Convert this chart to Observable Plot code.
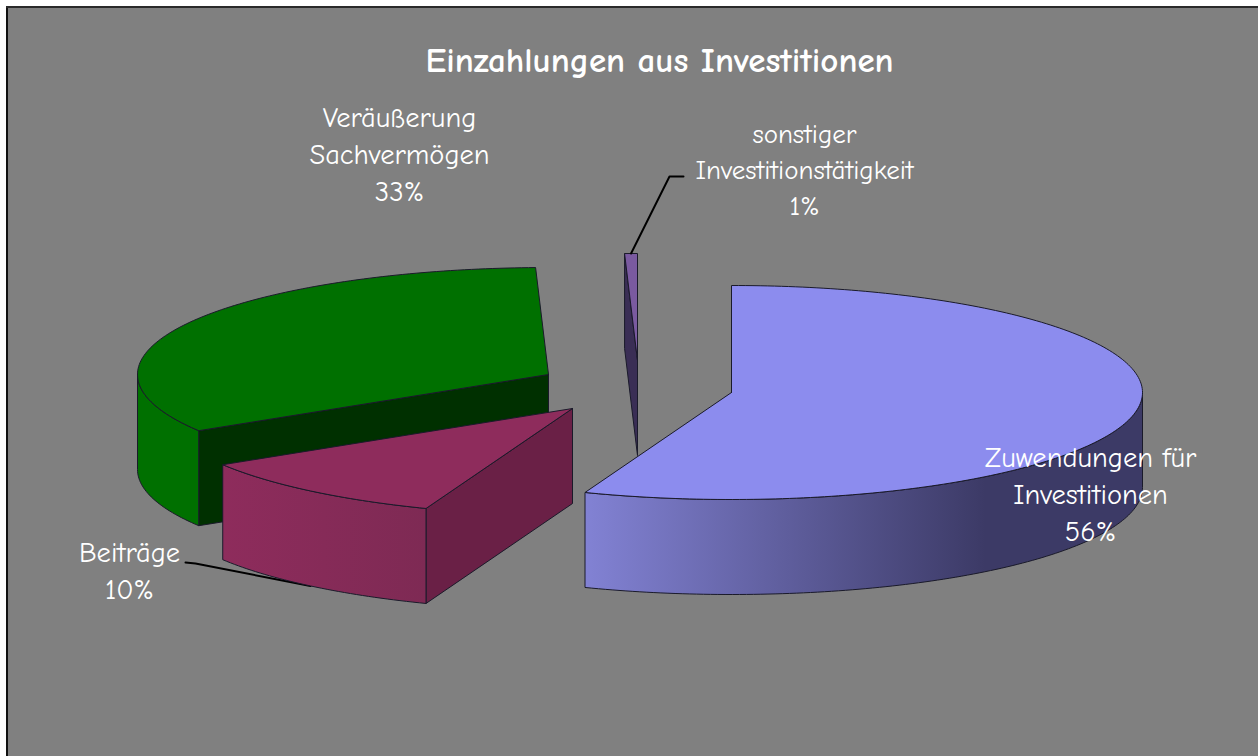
<!DOCTYPE html>
<html><head><meta charset="utf-8">
<script src="https://cdn.jsdelivr.net/npm/d3@7"></script>
<script src="https://cdn.jsdelivr.net/npm/@observablehq/plot@0.6"></script>
<style>html,body{margin:0;padding:0;background:#fff}svg{display:block}</style>
</head><body><div id="c"></div>
<script>
const categories = ["Zuwendungen für\nInvestitionen", "Beiträge", "Veräußerung\nSachvermögen", "sonstiger\nInvestitionstätigkeit"];
const shares = [55.8, 10.4, 33.3, 0.5];
const title = "Einzahlungen aus Investitionen";

// layout of the exploded 3D pie
const W = 1258, H = 756, rx = 411, ry = 107, depth = 95;
const centers = [[731, 392], [572, 408], [548, 374], [637, 360]];
const labelAt = [[1090, 496], [129, 572], [399, 156], [804, 171]];
const labelSize = [28.5, 28.5, 28.5, 27];
const looks = [
  {top: "#8c8cee", wall: "url(#wall0)", face: "#8c8cee"},
  {top: "#8e2c5c", wall: "url(#wall1)", face: "#6a2046"},
  {top: "#007000", wall: "#007000", face: "#003000"},
  {top: "#7a5aa0", wall: "#3a2e55", face: "#3a2e55"}
];

const rim = (i, a, z = 0) => {
  const t = a * Math.PI / 180, [cx, cy] = centers[i];
  return {x: cx + rx * Math.sin(t), y: cy - ry * Math.cos(t) + z};
};
const mid = (i, z = 0) => ({x: centers[i][0], y: centers[i][1] + z});
const arc = (i, a0, a1, z = 0) => {
  const n = Math.max(1, Math.ceil(Math.abs(a1 - a0)));
  return d3.range(n + 1).map(k => rim(i, a0 + (a1 - a0) * k / n, z));
};
const total = d3.sum(shares);
let acc = 0;
const slices = shares.map((s, i) => {
  const a0 = acc / total * 360; acc += s;
  return {i, a0, a1: acc / total * 360, pct: Math.round(s)};
});
const poly = (pts, fill, stroke = "#1a1a2a", strokeWidth = 1) =>
  Plot.line([...pts, pts[0]], {x: "x", y: "y", fill, stroke, strokeWidth, strokeLinejoin: "round", curve: "linear"});

const drawOrder = [2, 3, 1, 0];
const shapes = [];
for (const o of drawOrder) {
  const {i, a0, a1} = slices[o], look = looks[i];
  if (a0 > 0) shapes.push(poly([mid(i), rim(i, a0), rim(i, a0, depth), mid(i, depth)], look.face));
  const w0 = Math.max(a0, 90), w1 = Math.min(a1, 270);
  if (w1 > w0) shapes.push(poly([...arc(i, w0, w1), ...arc(i, w1, w0, depth)], look.wall));
  shapes.push(poly([mid(i), ...arc(i, a0, a1)], look.top));
}

const midAngle = s => (s.a0 + s.a1) / 2;
const leaderSonst = [rim(3, midAngle(slices[3])), {x: labelAt[3][0] - 135, y: labelAt[3][1] + 5}, {x: labelAt[3][0] - 121, y: labelAt[3][1] + 5}];
const leaderBeitr = [rim(1, midAngle(slices[1]), depth), {x: labelAt[1][0] + 66, y: labelAt[1][1] - 9}, {x: labelAt[1][0] + 56, y: labelAt[1][1] - 10}];

const labels = slices.map(s => ({
  text: `${categories[s.i]}\n${s.pct}%`, x: labelAt[s.i][0], y: labelAt[s.i][1] - 4, size: labelSize[s.i]
}));
const font = "'Comic Sans MS','Comic Neue',Lato,sans-serif";

const chart = Plot.plot({
  width: W, height: H, margin: 0,
  x: {domain: [0, W], range: [0, W], axis: null},
  y: {domain: [0, H], range: [0, H], axis: null},
  style: {background: "transparent"},
  marks: [
    Plot.line(leaderBeitr, {x: "x", y: "y", stroke: "#000", strokeWidth: 2}),
    ...shapes,
    Plot.line(leaderSonst, {x: "x", y: "y", stroke: "#000", strokeWidth: 2}),
    Plot.text(labels.filter(d => d.size === 28.5), {x: "x", y: "y", text: "text", fill: "#fff", fontSize: 28.5, fontFamily: font, lineHeight: 1.3, textAnchor: "middle"}),
    Plot.text(labels.filter(d => d.size === 27), {x: "x", y: "y", text: "text", fill: "#fff", fontSize: 27, fontFamily: font, lineHeight: 1.33, textAnchor: "middle"}),
    Plot.text([title], {x: () => 659, y: () => 60, text: d => d, fill: "#fff", fontSize: 35, fontWeight: "bold", fontFamily: font, textAnchor: "middle"})
  ]
});
const svg = d3.select(chart);
const defs = svg.insert("defs", ":first-child");
const grad = (id, x1, x2, c1, c2) => {
  const g = defs.append("linearGradient").attr("id", id).attr("gradientUnits", "userSpaceOnUse")
    .attr("x1", x1).attr("x2", x2).attr("y1", 0).attr("y2", 0);
  g.append("stop").attr("offset", 0).attr("stop-color", c1);
  g.append("stop").attr("offset", 1).attr("stop-color", c2);
};
grad("wall0", 584, 985, "#8282d4", "#3c3a66");
grad("wall1", 222, 426, "#8e2c5c", "#7e2a54");
chart.style.background = "linear-gradient(#2a2a2a,#2a2a2a) 6px 6px/100% 2px no-repeat, linear-gradient(#111,#111) 6px 6px/2px 100% no-repeat, linear-gradient(#808080,#808080) 6px 6px/100% 100% no-repeat, #fff";
document.getElementById("c").append(chart);
</script></body></html>
